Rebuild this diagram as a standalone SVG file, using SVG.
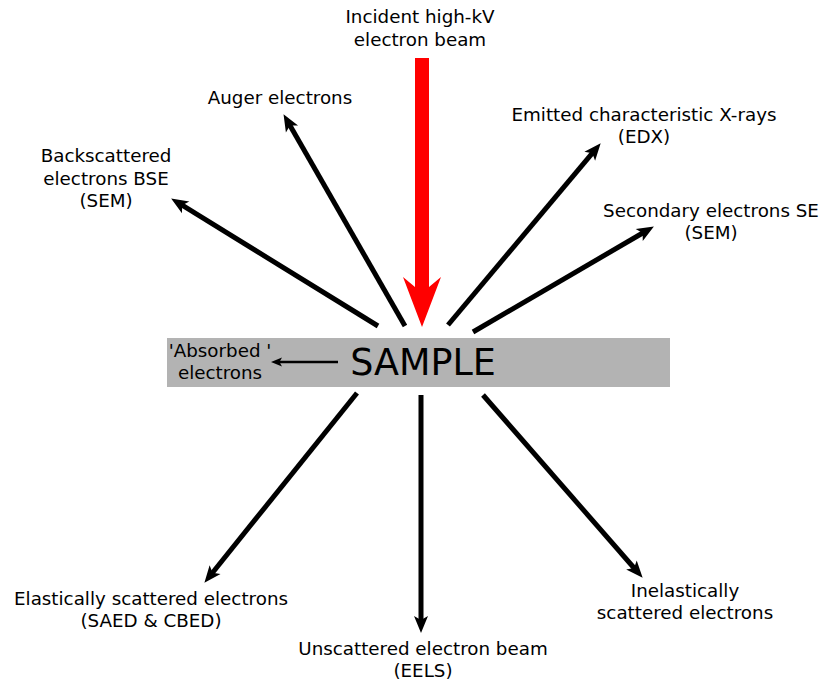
<svg xmlns="http://www.w3.org/2000/svg" width="824" height="684" viewBox="0 0 824 684">
<style>
text{font-family:"DejaVu Sans","Liberation Sans",sans-serif;font-size:18.3px;fill:#000;text-anchor:middle}
.big{font-size:36.5px}
.arr{stroke:#000;stroke-width:5;fill:none;marker-end:url(#head)}
.thin{stroke:#000;stroke-width:2.5;fill:none;marker-end:url(#headS)}
</style>
<defs>
<marker id="head" markerUnits="userSpaceOnUse" viewBox="-1 -9 20 18" markerWidth="20" markerHeight="18" refX="6" refY="0" orient="auto">
<path d="M17,0 L0,-7 L4,0 L0,7 Z" fill="#000"/>
</marker>
<marker id="headS" markerUnits="userSpaceOnUse" viewBox="-1 -6 14 12" markerWidth="14" markerHeight="12" refX="4" refY="0" orient="auto">
<path d="M11,0 L0,-4.5 L2.5,0 L0,4.5 Z" fill="#000"/>
</marker>
</defs>
<g id="sample">
<rect x="167" y="338" width="503" height="49" fill="#b3b3b3"/>
<text class="big" x="423" y="375">SAMPLE</text>
</g>
<g id="beam">
<path d="M415,58 L429,58 L429,287 L441,277 L422,327 L403,277 L415,287 Z" fill="#ff0000"/>
<text x="420" y="23">Incident high-kV</text>
<text x="420" y="46">electron beam</text>
</g>
<g id="auger"><text x="280" y="104">Auger electrons</text></g>
<g id="bse">
<text x="106" y="162">Backscattered</text>
<text x="106" y="185">electrons BSE</text>
<text x="106" y="207">(SEM)</text>
</g>
<g id="edx">
<text x="644" y="121">Emitted characteristic X-rays</text>
<text x="644" y="143">(EDX)</text>
</g>
<g id="se">
<text x="711" y="217">Secondary electrons SE</text>
<text x="711" y="239">(SEM)</text>
</g>
<g id="absorbed">
<text x="220" y="357">'Absorbed '</text>
<text x="220" y="379">electrons</text>
</g>
<g id="elastic">
<text x="151" y="605">Elastically scattered electrons</text>
<text x="151" y="627">(SAED &amp; CBED)</text>
</g>
<g id="unscattered">
<text x="423" y="655">Unscattered electron beam</text>
<text x="423" y="677">(EELS)</text>
</g>
<g id="inelastic">
<text x="685" y="597">Inelastically</text>
<text x="685" y="619">scattered electrons</text>
</g>
<g id="connectors">
<line class="arr" x1="378" y1="326" x2="180.5" y2="204.2"/>
<line class="arr" x1="405" y1="326" x2="289" y2="123.7"/>
<line class="arr" x1="448" y1="325" x2="593.6" y2="151.7"/>
<line class="arr" x1="473" y1="332" x2="644.4" y2="232"/>
<line class="arr" x1="357" y1="393" x2="211.3" y2="574.2"/>
<line class="arr" x1="421" y1="395" x2="421" y2="622"/>
<line class="arr" x1="483" y1="395" x2="635.4" y2="569.5"/>
<line class="thin" x1="338" y1="362" x2="278" y2="362"/>
</g>
</svg>
